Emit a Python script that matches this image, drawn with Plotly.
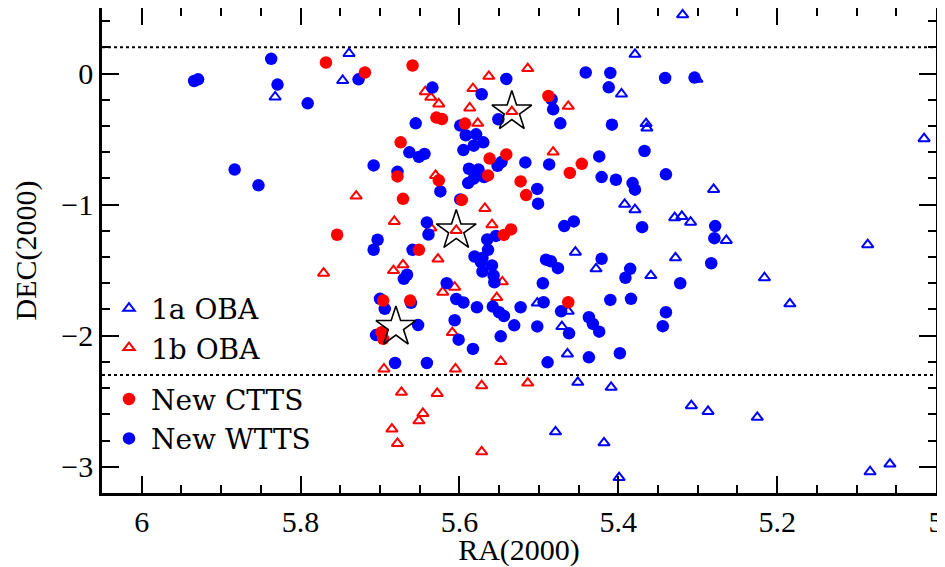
import plotly.graph_objects as go

# ---------------- data (RA, DEC as in the plot) ----------------
wtts_ra = [5.934, 5.929, 5.837, 5.829, 5.791, 5.727, 5.883, 5.708, 5.853, 5.634,
           5.655, 5.663, 5.651, 5.644, 5.541, 5.572, 5.551, 5.599, 5.592, 5.579,
           5.582, 5.570, 5.595, 5.552, 5.547, 5.588, 5.576, 5.517, 5.487, 5.424,
           5.484, 5.482, 5.473, 5.441, 5.410, 5.412, 5.408, 5.367, 5.341, 5.304,
           5.678, 5.624, 5.589, 5.582, 5.569, 5.599, 5.641, 5.639, 5.565, 5.554,
           5.703, 5.708, 5.659, 5.581, 5.571, 5.564, 5.573, 5.559, 5.571, 5.557,
           5.556, 5.670, 5.666, 5.616, 5.604, 5.595, 5.578, 5.558, 5.550, 5.544,
           5.531, 5.523, 5.502, 5.700, 5.694, 5.661, 5.652, 5.606, 5.495, 5.491,
           5.485, 5.476, 5.468, 5.456, 5.502, 5.501, 5.421, 5.403, 5.382, 5.379,
           5.370, 5.421, 5.385, 5.391, 5.494, 5.472, 5.410, 5.384, 5.437, 5.432,
           5.424, 5.462, 5.340, 5.278, 5.279, 5.283, 5.322, 5.340, 5.344, 5.705,
           5.601, 5.583, 5.548, 5.681, 5.641, 5.489, 5.437, 5.398]
wtts_dec = [-0.057, -0.044, 0.112, -0.084, -0.227, -0.044, -0.733, -0.701, -0.853, -0.107,
            -0.380, -0.601, -0.636, -0.613, -0.041, -0.158, -0.349, -0.397, -0.471, -0.464,
            -0.550, -0.525, -0.584, -0.704, -0.675, -0.726, -0.733, -0.678, -0.693, -0.632,
            -0.196, -0.273, -0.380, 0.008, 0.005, -0.105, -0.390, -0.591, -0.034, -0.031,
            -0.750, -0.899, -0.836, -0.802, -0.790, -0.960, -1.136, -1.228, -1.266, -1.239,
            -1.268, -1.344, -1.345, -1.396, -1.407, -1.345, -1.438, -1.464, -1.510, -1.541,
            -1.592, -1.566, -1.535, -1.600, -1.720, -1.747, -1.783, -1.778, -1.821, -1.850,
            -1.921, -1.783, -1.929, -1.719, -1.795, -1.749, -1.919, -1.882, -1.600, -1.420,
            -1.432, -1.485, -1.164, -1.128, -0.880, -0.993, -0.790, -0.810, -0.836, -0.886,
            -1.172, -1.413, -1.490, -1.558, -1.745, -1.814, -1.727, -1.719, -1.859, -1.910,
            -1.969, -1.982, -0.769, -1.164, -1.256, -1.447, -1.600, -1.821, -1.927, -1.995,
            -2.030, -2.101, -2.005, -2.208, -2.208, -2.203, -2.165, -2.134]

ctts_ra = [5.768, 5.719, 5.659, 5.629, 5.622, 5.674, 5.593, 5.562, 5.541, 5.461,
           5.446, 5.488, 5.678, 5.626, 5.671, 5.564, 5.597, 5.544, 5.535, 5.651,
           5.523, 5.516, 5.696, 5.662, 5.463, 5.754, 5.698, 5.696]
ctts_dec = [0.084, 0.008, 0.061, -0.336, -0.347, -0.525, -0.382, -0.649, -0.617, -0.758,
            -0.689, -0.171, -0.785, -0.815, -0.956, -0.777, -0.964, -1.231, -1.189, -1.345,
            -0.823, -0.927, -1.732, -1.732, -1.745, -1.230, -1.974, -2.024]

oba1b_ra = [5.643, 5.636, 5.626, 5.563, 5.514, 5.583, 5.587, 5.534, 5.577, 5.482,
            5.463, 5.730, 5.771, 5.630, 5.568, 5.682, 5.636, 5.604, 5.559, 5.627,
            5.683, 5.671, 5.546, 5.621, 5.606, 5.553, 5.609, 5.695, 5.605, 5.548,
            5.673, 5.628, 5.572, 5.514, 5.646, 5.651, 5.685, 5.678, 5.572]
oba1b_dec = [-0.138, -0.181, -0.232, -0.021, 0.038, -0.115, -0.263, -0.290, -0.380, -0.599,
             -0.250, -0.935, -1.523, -0.777, -1.029, -1.128, -1.178, -1.197, -1.153, -1.415,
             -1.503, -1.459, -1.589, -1.668, -1.630, -1.709, -1.976, -2.254, -2.254, -2.196,
             -2.432, -2.440, -2.381, -2.361, -2.593, -2.649, -2.712, -2.822, -2.886]

oba1a_ra = [5.832, 5.739, 5.747, 5.396, 5.379, 5.365, 5.364, 5.319, 5.301, 5.015,
            5.280, 5.392, 5.379, 5.329, 5.320, 5.309, 5.264, 5.086, 5.328, 5.359,
            5.216, 5.184, 5.454, 5.428, 5.502, 5.463, 5.471, 5.464, 5.451, 5.409,
            5.479, 5.418, 5.399, 5.308, 5.287, 5.225, 5.083, 5.058]
oba1a_dec = [-0.179, 0.153, -0.053, -0.156, 0.147, -0.382, -0.416, 0.448, -0.044, -0.497,
             -0.884, -0.998, -1.039, -1.100, -1.090, -1.134, -1.273, -1.306, -1.406, -1.541,
             -1.558, -1.757, -1.363, -1.490, -1.751, -1.814, -1.930, -2.139, -2.356, -2.394,
             -2.733, -2.817, -3.082, -2.534, -2.578, -2.623, -3.038, -2.979]

star_ra = [5.534, 5.604, 5.680]
star_dec = [-0.290, -1.197, -1.934]

dotted_levels = [0.2, -2.3]

x_ticks = [6, 5.8, 5.6, 5.4, 5.2, 5]
x_ticklabels = ["6", "5.8", "5.6", "5.4", "5.2", "5"]
y_ticks = [0, -1, -2, -3]

# ---------------- figure ----------------
FONT = "Liberation Serif, DejaVu Serif, serif"
LEGFONT = "DejaVu Serif, Liberation Serif, serif"
BLUE = "#0000ff"
RED = "#ff0000"

fig = go.Figure()

fig.add_trace(go.Scatter(
    x=oba1a_ra, y=oba1a_dec, mode="markers", name="1a OBA",
    legendgroup="oba", legendrank=1,
    marker=dict(symbol="triangle-up-open", size=10, color=BLUE, line=dict(width=2, color=BLUE)),
))
fig.add_trace(go.Scatter(
    x=oba1b_ra, y=oba1b_dec, mode="markers", name="1b OBA",
    legendgroup="oba", legendrank=2,
    marker=dict(symbol="triangle-up-open", size=10, color=RED, line=dict(width=2, color=RED)),
))
fig.add_trace(go.Scatter(
    x=wtts_ra, y=wtts_dec, mode="markers", name="New WTTS",
    legendgroup="tts", legendrank=4,
    marker=dict(symbol="circle", size=12.5, color=BLUE, line=dict(width=0)),
))
fig.add_trace(go.Scatter(
    x=ctts_ra, y=ctts_dec, mode="markers", name="New CTTS",
    legendgroup="tts", legendrank=3,
    marker=dict(symbol="circle", size=12.5, color=RED, line=dict(width=0)),
))
fig.add_trace(go.Scatter(
    x=star_ra, y=star_dec, mode="markers", showlegend=False,
    marker=dict(symbol="star-open", size=30, color="black", line=dict(width=1.6, color="black")),
))

for lvl in dotted_levels:
    fig.add_hline(y=lvl, line=dict(color="black", width=2, dash="dot"), layer="below")

axis_common = dict(
    showgrid=False, zeroline=False, showline=True, linecolor="black", linewidth=2.5,
    mirror="allticks", ticks="inside", ticklen=17, tickwidth=2, tickcolor="black",
    tickfont=dict(family=FONT, size=30, color="black"), automargin=False,
)

fig.update_xaxes(
    **axis_common,
    range=[6.05, 5.0], tickvals=x_ticks, ticktext=x_ticklabels,
    minor=dict(dtick=0.05, ticks="inside", ticklen=8, tickwidth=1.5, tickcolor="black", showgrid=False),
    title=dict(text="RA(2000)", font=dict(family=FONT, size=30, color="black"), standoff=6),
)
fig.update_yaxes(
    **axis_common,
    range=[-3.2, 0.5], tickvals=y_ticks,
    minor=dict(dtick=0.2, ticks="inside", ticklen=8, tickwidth=1.5, tickcolor="black", showgrid=False),
    title=dict(text="DEC(2000)", font=dict(family=FONT, size=30, color="black"), standoff=16),
)

# page has an 8px body margin: size the figure so the plot area lands where the reference has it
fig.update_layout(
    width=937, height=559,
    margin=dict(l=94, r=9, t=0, b=74),
    plot_bgcolor="white", paper_bgcolor="white",
    legend=dict(
        x=0.006, y=0.432, xanchor="left", yanchor="top",
        font=dict(family=LEGFONT, size=28, color="black"),
        bgcolor="rgba(0,0,0,0)", traceorder="grouped", tracegroupgap=12,
        itemwidth=34,
    ),
)

fig.write_html("out.html")
